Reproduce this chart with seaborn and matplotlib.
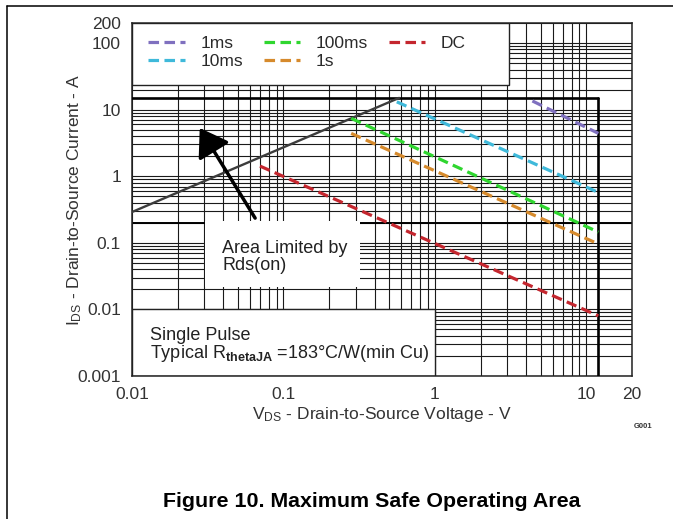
import matplotlib
matplotlib.use("Agg")
import matplotlib.pyplot as plt
import matplotlib.ticker as mticker
from matplotlib.patches import Rectangle
from matplotlib.lines import Line2D
import seaborn as sns
import pandas as pd

# SOA curves (Vds in V, Ids in A)
pulse_labels = ["1ms", "10ms", "100ms", "1s", "DC"]
pulse_colors = ["#7f70bf", "#3fb9da", "#2fd62f", "#d68a2c", "#c4262e"]
vds_1ms = [4.4, 12.0]
ids_1ms = [13.5, 4.4]
vds_10ms = [0.56, 12.0]
ids_10ms = [13.1, 0.57]
vds_100ms = [0.28, 12.0]
ids_100ms = [7.4, 0.145]
vds_1s = [0.28, 12.0]
ids_1s = [4.4, 0.096]
vds_dc = [0.07, 12.0]
ids_dc = [1.42, 0.0080]

# Rds(on) limit and absolute limits
rds_vds = [0.01, 0.58]
rds_ids = [0.29, 15.0]
I_MAX = 15.0
V_MAX = 12.0
I_MARK = 0.2

x_ticks = [0.01, 0.1, 1, 10, 20]
x_ticklabels = ["0.01", "0.1", "1", "10", "20"]
y_ticks = [0.001, 0.01, 0.1, 1, 10, 100, 200]
y_ticklabels = ["0.001", "0.01", "0.1", "1", "10", "100", "200"]

frames = []
for lab, v, i in zip(pulse_labels,
                     [vds_1ms, vds_10ms, vds_100ms, vds_1s, vds_dc],
                     [ids_1ms, ids_10ms, ids_100ms, ids_1s, ids_dc]):
    frames.append(pd.DataFrame({"Vds": v, "Ids": i, "Pulse": lab}))
df = pd.concat(frames, ignore_index=True)

sns.set_theme(style="white")
plt.rcParams["font.family"] = ["Liberation Sans", "DejaVu Sans"]
plt.rcParams["mathtext.fontset"] = "custom"
plt.rcParams["mathtext.rm"] = "Liberation Sans"
plt.rcParams["mathtext.bf"] = "Liberation Sans:bold"
plt.rcParams["mathtext.it"] = "Liberation Sans:italic"

W, H = 673, 519
fig = plt.figure(figsize=(W / 100, H / 100), dpi=100)
fig.patch.set_facecolor("white")
ax = fig.add_axes([132 / W, 1 - 376 / H, 500 / W, 353 / H])
ax.set_xscale("log")
ax.set_yscale("log")
ax.set_xlim(0.01, 20)
ax.set_ylim(0.001, 200)

# grid
ax.set_axisbelow(True)
ax.xaxis.set_minor_locator(mticker.LogLocator(base=10, subs=range(2, 10), numticks=20))
ax.yaxis.set_minor_locator(mticker.LogLocator(base=10, subs=range(2, 10), numticks=20))
ax.xaxis.set_minor_formatter(mticker.NullFormatter())
ax.yaxis.set_minor_formatter(mticker.NullFormatter())
ax.grid(which="both", color="#1a1a1a", lw=0.8)
ax.axhline(I_MARK, color="black", lw=1.4, zorder=0.8)

# white boxes that hide the grid
ax.add_patch(Rectangle((0, 0.824), 0.754, 0.176, transform=ax.transAxes,
                       facecolor="white", edgecolor="#222222", lw=1.0, zorder=1))
ax.add_patch(Rectangle((0.146, 0.252), 0.31, 0.187, transform=ax.transAxes,
                       facecolor="white", edgecolor="none", zorder=1))
ax.add_patch(Rectangle((0.01, 0.001), 0.99, 0.009,
                       facecolor="white", edgecolor="#222222", lw=1.0, zorder=1))

# limits
sns.lineplot(x=[0.01, V_MAX], y=[I_MAX, I_MAX], ax=ax, color="black", lw=1.9,
             estimator=None, sort=False, zorder=3)
sns.lineplot(x=[V_MAX, V_MAX], y=[0.001, I_MAX], ax=ax, color="black", lw=1.9,
             estimator=None, sort=False, zorder=3)
sns.lineplot(x=rds_vds, y=rds_ids, ax=ax, color="#3c3c3c", lw=1.7,
             estimator=None, zorder=3)

for lab, col in zip(pulse_labels, pulse_colors):
    sub = df[df["Pulse"] == lab]
    sns.lineplot(data=sub, x="Vds", y="Ids", ax=ax, color=col, lw=2.3,
                 label=lab, zorder=4, sort=False, estimator=None)
    ax.lines[-1].set_dashes([3.3, 1.7])

leg = ax.legend(loc="upper left", bbox_to_anchor=(0.0186, 0.984), ncol=3,
                frameon=False, fontsize=12.5, handlelength=2.1, handletextpad=0.9,
                columnspacing=1.2, labelspacing=0.2, borderaxespad=0)
for t in leg.get_texts():
    t.set_color("#2a2a2a")

ax.annotate("", xy=(0.028, 5.3), xytext=(0.065, 0.235),
            arrowprops=dict(arrowstyle="-|>,head_length=0.83,head_width=0.55",
                            lw=2.5, color="black", mutation_scale=20,
                            shrinkA=0, shrinkB=0), zorder=5)

ax.text(0.18, 0.337, "Area Limited by\nRds(on)", transform=ax.transAxes,
        ha="left", va="center", fontsize=13, color="#222222", linespacing=1.0, zorder=5)
ax.text(0.036, 0.116, "Single Pulse", transform=ax.transAxes,
        ha="left", va="center", fontsize=13, color="#222222", zorder=5)
ax.text(0.036, 0.065, r"Typical R$_{\mathbf{thetaJA}}$ =183°C/W(min Cu)",
        transform=ax.transAxes, ha="left", va="center", fontsize=13,
        color="#222222", zorder=5)

ax.set_xticks(x_ticks)
ax.set_xticklabels(x_ticklabels)
ax.set_yticks(y_ticks)
ax.set_yticklabels(y_ticklabels)
ax.tick_params(which="both", length=0, pad=8, labelsize=12.5, colors="#333333")
for s in ax.spines.values():
    s.set_color("#222222")
    s.set_linewidth(1.1)

ax.set_xlabel(r"V$_{\mathrm{DS}}$ - Drain-to-Source Voltage - V", fontsize=12.5, color="#333333")
ax.set_ylabel(r"I$_{\mathrm{DS}}$ - Drain-to-Source Current - A", fontsize=12.5, color="#333333")
ax.xaxis.set_label_coords(0.5, -0.082)
ax.yaxis.set_label_coords(-0.096, 0.5)

fig.text(643 / W, 1 - 426 / H, "G001", fontsize=5.5, weight="bold",
         ha="center", va="center", color="#333333")
fig.text(371.5 / W, 1 - 507 / H, "Figure 10. Maximum Safe Operating Area",
         fontsize=15.4, weight="bold", ha="center", va="baseline", color="black")

# page frame (left and top rules)
fig.add_artist(Line2D([7 / W, 7 / W], [0, 1 - 6 / H], color="black", lw=1.1))
fig.add_artist(Line2D([7 / W, 1], [1 - 6 / H, 1 - 6 / H], color="black", lw=1.1))

fig.savefig("out.png", dpi=100)
